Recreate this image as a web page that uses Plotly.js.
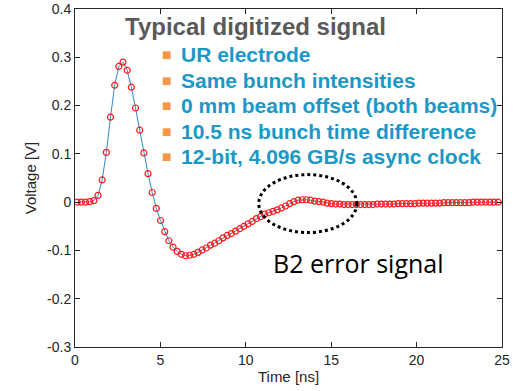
<!DOCTYPE html>
<html>
<head>
<meta charset="utf-8">
<script src="https://cdn.plot.ly/plotly-3.0.1.min.js"></script>
<style>html,body{margin:0;padding:0;background:#fff;}#chart{width:524px;height:391px;}</style>
</head>
<body>
<div id="chart"></div>
<script>
// sample times [ns]
const timeNs = [0.127,0.371,0.615,0.859,1.103,1.347,1.591,1.835,2.079,2.323,2.567,2.811,3.055,3.299,3.543,3.787,4.031,4.275,4.519,4.763,
5.007,5.251,5.495,5.739,5.983,6.227,6.471,6.715,6.959,7.203,7.447,7.691,7.935,8.179,8.423,8.667,8.911,9.155,9.399,9.643,
9.887,10.131,10.375,10.619,10.863,11.107,11.351,11.595,11.839,12.083,12.327,12.571,12.815,13.059,13.303,13.547,13.791,14.035,14.279,14.523,
14.767,15.011,15.255,15.499,15.743,15.987,16.231,16.475,16.719,16.963,17.207,17.451,17.695,17.939,18.183,18.427,18.671,18.915,19.159,19.403,
19.647,19.891,20.135,20.379,20.623,20.867,21.111,21.355,21.599,21.843,22.087,22.331,22.575,22.819,23.063,23.307,23.551,23.795,24.039,24.283,
24.527,24.771];
// digitized voltage [V]
const voltage = [0.000,0.000,0.000,0.001,0.003,0.014,0.046,0.103,0.176,0.242,0.281,0.290,0.273,0.238,0.195,0.149,0.102,0.059,0.020,-0.013,
-0.038,-0.061,-0.080,-0.093,-0.102,-0.108,-0.111,-0.110,-0.108,-0.104,-0.099,-0.095,-0.089,-0.085,-0.080,-0.074,-0.069,-0.065,-0.060,-0.055,
-0.050,-0.045,-0.040,-0.034,-0.030,-0.025,-0.022,-0.019,-0.016,-0.012,-0.008,-0.003,0.001,0.004,0.005,0.005,0.004,0.002,0.001,0.000,
-0.002,-0.003,-0.004,-0.004,-0.005,-0.005,-0.005,-0.005,-0.005,-0.005,-0.005,-0.005,-0.004,-0.004,-0.004,-0.004,-0.004,-0.003,-0.003,-0.003,
-0.003,-0.003,-0.002,-0.002,-0.002,-0.002,-0.002,-0.002,-0.001,-0.001,-0.001,-0.001,-0.001,-0.001,-0.001,0.000,0.000,0.000,0.000,0.000,
0.000,0.000];

const xTickVals = [0,5,10,15,20,25];
const xTickText = ["0","5","10","15","20","25"];
const yTickVals = [-0.3,-0.2,-0.1,0,0.1,0.2,0.3,0.4];
const yTickText = ["-0.3","-0.2","-0.1","0","0.1","0.2","0.3","0.4"];

const titleText = "Typical digitized signal";
const bulletLines = ["UR electrode","Same bunch intensities","0 mm beam offset (both beams)","10.5 ns bunch time difference","12-bit, 4.096 GB/s async clock"];
const calloutText = "B2 error signal";

const traces = [
  {x: timeNs, y: voltage, type: 'scatter', mode: 'lines', line: {color: '#2f86c8', width: 1}, hoverinfo: 'skip'},
  {x: timeNs, y: voltage, type: 'scatter', mode: 'markers', marker: {symbol: 'circle-open', size: 6, color: '#ff1a1a', line: {width: 1.2, color: '#ff1a1a'}}},
];

const axisFont = {family: 'Liberation Sans, Arial, sans-serif', size: 14, color: '#262626'};
const titleFont = {family: 'Liberation Sans, Arial, sans-serif', size: 15, color: '#262626'};
const annotations = [];
annotations.push({xref:'paper', yref:'paper', x:0.112, y:0.947, xanchor:'left', yanchor:'middle', showarrow:false,
  text:'<b>'+titleText+'</b>', font:{family:'Liberation Sans, Arial, sans-serif', size:24, color:'#595959'}});
const rowY = [0.865,0.789,0.714,0.638,0.563];
bulletLines.forEach((t,i)=>{
  annotations.push({xref:'paper', yref:'paper', x:0.2147, y:rowY[i], xanchor:'center', yanchor:'middle', showarrow:false,
    text:'■', font:{family:'DejaVu Sans', size:10, color:'#f79646'}});
  annotations.push({xref:'paper', yref:'paper', x:0.243, y:rowY[i], xanchor:'left', yanchor:'middle', showarrow:false,
    text:'<b>'+t+'</b>', font:{family:'Liberation Sans, Arial, sans-serif', size:21, color:'#1b98c6'}});
});
annotations.push({xref:'paper', yref:'paper', x:0.458, y:0.249, xanchor:'left', yanchor:'middle', showarrow:false,
  text:calloutText, font:{family:'Open Sans, sans-serif', size:25, color:'#000000'}});

const layout = {
  width: 524, height: 391,
  margin: {l: 75, r: 22, t: 9, b: 44},
  paper_bgcolor: '#ffffff', plot_bgcolor: '#ffffff',
  showlegend: false,
  xaxis: {range: [0, 25], tickvals: xTickVals, ticktext: xTickText, ticks: 'inside', ticklen: 5, tickcolor: '#262626',
    showline: true, linecolor: '#262626', linewidth: 1, mirror: 'ticks', showgrid: false, zeroline: false,
    tickfont: axisFont, title: {text: 'Time [ns]', font: titleFont, standoff: 4}},
  yaxis: {range: [-0.3, 0.4], tickvals: yTickVals, ticktext: yTickText, ticks: 'inside', ticklen: 5, tickcolor: '#262626',
    showline: true, linecolor: '#262626', linewidth: 1, mirror: 'ticks', showgrid: false, zeroline: false,
    tickfont: axisFont, title: {text: 'Voltage [V]', font: titleFont, standoff: 6}},
  shapes: [{type: 'circle', xref: 'x', yref: 'y', x0: 10.76, x1: 16.50, y0: -0.063, y1: 0.057,
    line: {color: '#000000', width: 3, dash: 'dot'}}],
  annotations: annotations
};
Plotly.newPlot('chart', traces, layout, {displayModeBar: false, staticPlot: true});
</script>
</body>
</html>
